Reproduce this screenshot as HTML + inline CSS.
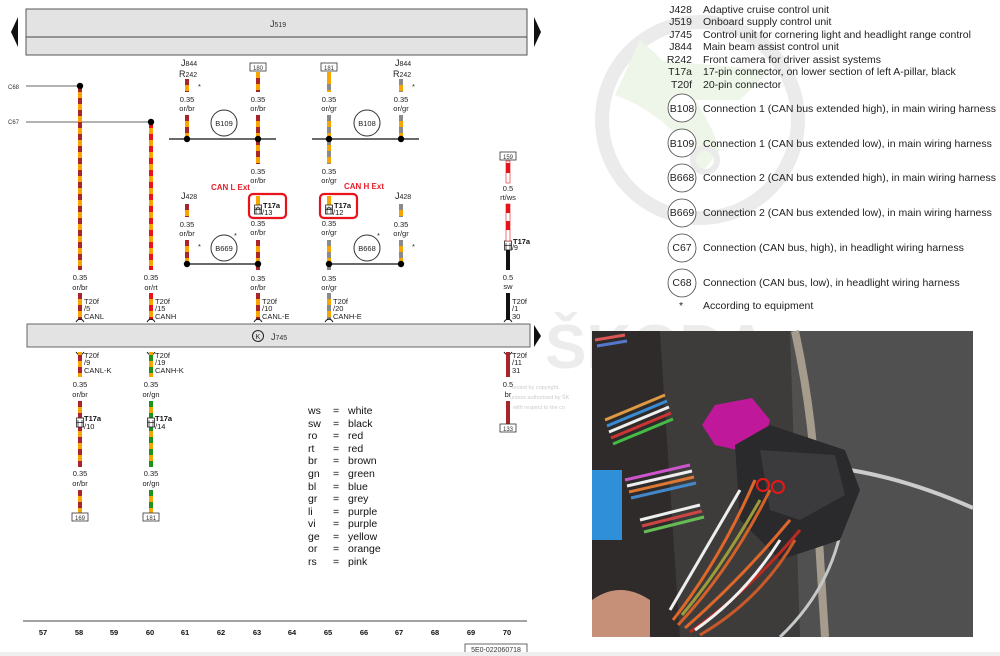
<!DOCTYPE html>
<html><head><meta charset="utf-8">
<style>
html,body{margin:0;padding:0;background:#fff;width:1000px;height:656px;overflow:hidden}
svg{display:block;font-family:"Liberation Sans",Arial,sans-serif}
.t{font-size:7.5px;fill:#222}
.s{font-size:6px;fill:#333}
.lg{font-size:10.5px;fill:#222}
.cl{font-size:10.5px;fill:#111}
.o{stroke:#f7a600;stroke-width:4}
.br{stroke:#a8262b;stroke-width:4;stroke-dasharray:6 6}
.rt{stroke:#e8121b;stroke-width:4;stroke-dasharray:6 6}
.gr{stroke:#8a8a8a;stroke-width:4;stroke-dasharray:6 6}
.gn{stroke:#1d931d;stroke-width:4;stroke-dasharray:6 6}
.num{font-size:7.5px;font-weight:bold;fill:#111}
</style></head><body>
<svg width="1000" height="656" viewBox="0 0 1000 656" xmlns="http://www.w3.org/2000/svg">
<!-- watermark -->
<circle cx="700" cy="120" r="98" fill="none" stroke="#ebebeb" stroke-width="14"/>
<path d="M640 40 Q700 90 720 150 L700 175 Q680 120 615 95 Z" fill="#edf6e8"/>
<path d="M650 60 L770 70 L740 100 L690 100 Z" fill="#edf6e8"/>
<circle cx="705" cy="160" r="12" fill="none" stroke="#ebebeb" stroke-width="6"/>
<text x="545" y="368" font-size="62" font-weight="bold" fill="#ececec">ŠKODA</text>

<!-- J519 box -->
<rect x="26" y="9" width="501" height="46" fill="#e3e3e3" stroke="#555" stroke-width="1"/>
<line x1="26" y1="37" x2="527" y2="37" stroke="#444" stroke-width="1"/>
<text x="270" y="27" font-size="9" fill="#333">J<tspan font-size="7">519</tspan></text>
<polygon points="18,17 18,47 11,32" fill="#111"/>
<polygon points="534,17 534,47 541,32" fill="#111"/>

<!-- C68 / C67 -->
<text x="8" y="89" class="s" font-size="5">C68</text>
<text x="8" y="124" class="s" font-size="5">C67</text>
<line x1="26" y1="86" x2="80" y2="86" stroke="#666"/>
<line x1="26" y1="122" x2="151" y2="122" stroke="#666"/>
<line x1="80" y1="86" x2="80" y2="270" class="o"/><line x1="80" y1="86" x2="80" y2="270" class="br"/>
<line x1="151" y1="122" x2="151" y2="270" class="o"/><line x1="151" y1="122" x2="151" y2="270" class="rt"/>
<circle cx="80" cy="86" r="3.2" fill="#000"/><circle cx="151" cy="122" r="3.2" fill="#000"/>
<text x="80" y="280" class="t" text-anchor="middle">0.35</text><text x="80" y="290" class="t" text-anchor="middle">or/br</text>
<text x="151" y="280" class="t" text-anchor="middle">0.35</text><text x="151" y="290" class="t" text-anchor="middle">or/rt</text>

<!-- top column labels -->
<text x="181" y="66" font-size="9" fill="#222">J<tspan font-size="7">844</tspan></text>
<text x="179" y="77" font-size="9" fill="#222">R<tspan font-size="7">242</tspan></text>
<text x="395" y="66" font-size="9" fill="#222">J<tspan font-size="7">844</tspan></text>
<text x="393" y="77" font-size="9" fill="#222">R<tspan font-size="7">242</tspan></text>
<text x="198" y="89" class="t">*</text><text x="412" y="89" class="t">*</text>
<rect x="250" y="63" width="16" height="8" fill="#fff" stroke="#333" stroke-width="0.8"/><text x="258" y="70" class="s" text-anchor="middle">180</text>
<rect x="321" y="63" width="16" height="8" fill="#fff" stroke="#333" stroke-width="0.8"/><text x="329" y="70" class="s" text-anchor="middle">181</text>

<line x1="187" y1="79" x2="187" y2="92" class="o"/><line x1="187" y1="79" x2="187" y2="92" class="br" stroke-dasharray="7 6"/>
<line x1="187" y1="115" x2="187" y2="139" class="o"/><line x1="187" y1="115" x2="187" y2="139" class="br"/>
<line x1="258" y1="72" x2="258" y2="92" class="o"/><line x1="258" y1="78" x2="258" y2="92" class="br"/>
<line x1="258" y1="115" x2="258" y2="164" class="o"/><line x1="258" y1="115" x2="258" y2="164" class="br"/>
<line x1="329" y1="72" x2="329" y2="92" class="o"/><line x1="329" y1="84" x2="329" y2="92" class="gr"/>
<line x1="329" y1="115" x2="329" y2="164" class="o"/><line x1="329" y1="115" x2="329" y2="164" class="gr"/>
<line x1="401" y1="79" x2="401" y2="92" class="o"/><line x1="401" y1="79" x2="401" y2="92" class="gr" stroke-dasharray="7 6"/>
<line x1="401" y1="115" x2="401" y2="139" class="o"/><line x1="401" y1="115" x2="401" y2="139" class="gr"/>
<g class="t" text-anchor="middle">
<text x="187" y="102">0.35</text><text x="187" y="111">or/br</text>
<text x="258" y="102">0.35</text><text x="258" y="111">or/br</text>
<text x="329" y="102">0.35</text><text x="329" y="111">or/gr</text>
<text x="401" y="102">0.35</text><text x="401" y="111">or/gr</text>
<text x="258" y="174">0.35</text><text x="258" y="183">or/br</text>
<text x="329" y="174">0.35</text><text x="329" y="183">or/gr</text>
</g>
<line x1="169" y1="139" x2="276" y2="139" stroke="#111" stroke-width="1.2"/>
<line x1="312" y1="139" x2="419" y2="139" stroke="#111" stroke-width="1.2"/>
<circle cx="187" cy="139" r="3.2"/><circle cx="258" cy="139" r="3.2"/><circle cx="329" cy="139" r="3.2"/><circle cx="401" cy="139" r="3.2"/>
<circle cx="224" cy="123" r="13" fill="#fff" stroke="#333"/><text x="224" y="126" class="t" text-anchor="middle">B109</text>
<circle cx="367" cy="123" r="13" fill="#fff" stroke="#333"/><text x="367" y="126" class="t" text-anchor="middle">B108</text>

<text x="211" y="190" font-size="8" font-weight="bold" fill="#e8202a">CAN L Ext</text>
<text x="344" y="189" font-size="8" font-weight="bold" fill="#e8202a">CAN H Ext</text>
<rect x="249" y="194" width="37" height="24" rx="4" fill="none" stroke="#e8121b" stroke-width="2.2"/>
<rect x="320" y="194" width="37" height="24" rx="4" fill="none" stroke="#e8121b" stroke-width="2.2"/>
<line x1="258" y1="196" x2="258" y2="205" class="o"/><line x1="329" y1="196" x2="329" y2="205" class="o"/>
<g stroke="#222" fill="#fff" stroke-width="0.8">
<rect x="254.5" y="205" width="7" height="9"/><rect x="325.5" y="205" width="7" height="9"/>
<rect x="504.5" y="241" width="7" height="9"/>
</g>
<g stroke="#222" stroke-width="0.7" fill="none">
<path d="M256 214 V207 M260 214 V207 M256.5 209 L258 207 L259.5 209 M254.5 209.5 H261.5"/>
<path d="M327 214 V207 M331 214 V207 M327.5 209 L329 207 L330.5 209 M325.5 209.5 H332.5"/>
<path d="M506 250 V243 M510 250 V243 M504.5 245.5 H511.5"/>
</g>
<text x="263" y="208" font-size="7.5" font-weight="bold" fill="#111">T17a</text><text x="262" y="215" font-size="7.5" fill="#111">/13</text>
<text x="334" y="208" font-size="7.5" font-weight="bold" fill="#111">T17a</text><text x="333" y="215" font-size="7.5" fill="#111">/12</text>

<text x="181" y="199" font-size="9" fill="#222">J<tspan font-size="7">428</tspan></text>
<text x="395" y="199" font-size="9" fill="#222">J<tspan font-size="7">428</tspan></text>
<line x1="187" y1="204" x2="187" y2="217" class="o"/><line x1="187" y1="204" x2="187" y2="217" class="br" stroke-dasharray="8 6"/>
<line x1="401" y1="204" x2="401" y2="217" class="o"/><line x1="401" y1="204" x2="401" y2="217" class="gr" stroke-dasharray="8 6"/>
<g class="t" text-anchor="middle">
<text x="187" y="227">0.35</text><text x="187" y="236">or/br</text>
<text x="258" y="226">0.35</text><text x="258" y="235">or/br</text>
<text x="329" y="226">0.35</text><text x="329" y="235">or/gr</text>
<text x="401" y="227">0.35</text><text x="401" y="236">or/gr</text>
<text x="258" y="281">0.35</text><text x="258" y="290">or/br</text>
<text x="329" y="281">0.35</text><text x="329" y="290">or/gr</text>
</g>
<text x="198" y="249" class="t">*</text><text x="412" y="249" class="t">*</text>
<text x="234" y="238" class="t">*</text><text x="377" y="238" class="t">*</text>
<line x1="187" y1="240" x2="187" y2="264" class="o"/><line x1="187" y1="240" x2="187" y2="264" class="br"/>
<line x1="258" y1="240" x2="258" y2="270" class="o"/><line x1="258" y1="240" x2="258" y2="270" class="br"/>
<line x1="329" y1="240" x2="329" y2="270" class="o"/><line x1="329" y1="240" x2="329" y2="270" class="gr"/>
<line x1="401" y1="240" x2="401" y2="264" class="o"/><line x1="401" y1="240" x2="401" y2="264" class="gr"/>
<line x1="187" y1="264" x2="258" y2="264" stroke="#111" stroke-width="1.2"/>
<line x1="329" y1="264" x2="401" y2="264" stroke="#111" stroke-width="1.2"/>
<circle cx="187" cy="264" r="3.2"/><circle cx="258" cy="264" r="3.2"/><circle cx="329" cy="264" r="3.2"/><circle cx="401" cy="264" r="3.2"/>
<circle cx="224" cy="248" r="13" fill="#fff" stroke="#333"/><text x="224" y="251" class="t" text-anchor="middle">B669</text>
<circle cx="367" cy="248" r="13" fill="#fff" stroke="#333"/><text x="367" y="251" class="t" text-anchor="middle">B668</text>

<line x1="80" y1="293" x2="80" y2="320" class="o"/><line x1="80" y1="293" x2="80" y2="320" class="br"/>
<line x1="151" y1="293" x2="151" y2="320" class="o"/><line x1="151" y1="293" x2="151" y2="320" class="rt"/>
<line x1="258" y1="293" x2="258" y2="320" class="o"/><line x1="258" y1="293" x2="258" y2="320" class="br"/>
<line x1="329" y1="293" x2="329" y2="320" class="o"/><line x1="329" y1="293" x2="329" y2="320" class="gr"/>
<g font-size="7.5" fill="#222">
<text x="84" y="304">T20f</text><text x="84" y="311">/5</text><text x="84" y="319">CANL</text>
<text x="155" y="304">T20f</text><text x="155" y="311">/15</text><text x="155" y="319">CANH</text>
<text x="262" y="304">T20f</text><text x="262" y="311">/10</text><text x="262" y="319">CANL-E</text>
<text x="333" y="304">T20f</text><text x="333" y="311">/20</text><text x="333" y="319">CANH-E</text>
<text x="512" y="304">T20f</text><text x="512" y="311">/1</text><text x="512" y="319">30</text>
</g>
<g stroke="#111" stroke-width="1" fill="none">
<path d="M76 322 Q80 316 84 322"/><path d="M147 322 Q151 316 155 322"/><path d="M254 322 Q258 316 262 322"/><path d="M325 322 Q329 316 333 322"/><path d="M504 322 Q508 316 512 322"/>
<path d="M76 352 Q80 358 84 352"/><path d="M147 352 Q151 358 155 352"/><path d="M504 352 Q508 358 512 352"/>
</g>

<rect x="500" y="152" width="16" height="8" fill="#fff" stroke="#333" stroke-width="0.8"/><text x="508" y="159" class="s" text-anchor="middle">159</text>
<rect x="506" y="161" width="4" height="22" fill="#fff" stroke="#e8121b" stroke-width="0.6"/>
<rect x="506" y="163" width="4" height="10" fill="#e8121b"/>
<text x="508" y="191" class="t" text-anchor="middle">0.5</text><text x="508" y="200" class="t" text-anchor="middle">rt/ws</text>
<rect x="506" y="204" width="4" height="37" fill="#fff" stroke="#e8121b" stroke-width="0.6"/>
<rect x="506" y="204" width="4" height="9" fill="#e8121b"/><rect x="506" y="221" width="4" height="9" fill="#e8121b"/>
<text x="513" y="244" font-size="7.5" font-weight="bold" fill="#111">T17a</text><text x="512" y="250" font-size="7" fill="#111">/9</text>
<line x1="508" y1="250" x2="508" y2="270" stroke="#111" stroke-width="4"/>
<text x="508" y="280" class="t" text-anchor="middle">0.5</text><text x="508" y="289" class="t" text-anchor="middle">sw</text>
<line x1="508" y1="293" x2="508" y2="320" stroke="#111" stroke-width="4"/>

<rect x="27" y="324" width="503" height="23" fill="#e3e3e3" stroke="#666"/>
<circle cx="258" cy="336" r="5.5" fill="none" stroke="#222"/><text x="258" y="339" font-size="7" text-anchor="middle" fill="#222">K</text>
<text x="271" y="340" font-size="9" fill="#333">J<tspan font-size="7">745</tspan></text>
<polygon points="534,325 534,347 541,336" fill="#111"/>

<line x1="80" y1="352" x2="80" y2="377" class="o"/><line x1="80" y1="355" x2="80" y2="377" class="br" stroke-dasharray="8 5"/>
<line x1="151" y1="352" x2="151" y2="377" class="o"/><line x1="151" y1="355" x2="151" y2="377" class="gn" stroke-dasharray="8 5"/>
<line x1="508" y1="352" x2="508" y2="377" stroke="#a8262b" stroke-width="4"/>
<g font-size="7.5" fill="#222">
<text x="84" y="358">T20f</text><text x="84" y="365">/9</text><text x="84" y="373">CANL-K</text>
<text x="155" y="358">T20f</text><text x="155" y="365">/19</text><text x="155" y="373">CANH-K</text>
<text x="512" y="358">T20f</text><text x="512" y="365">/11</text><text x="512" y="373">31</text>
</g>
<g class="t" text-anchor="middle">
<text x="80" y="387">0.35</text><text x="80" y="397">or/br</text>
<text x="151" y="387">0.35</text><text x="151" y="397">or/gn</text>
<text x="80" y="476">0.35</text><text x="80" y="486">or/br</text>
<text x="151" y="476">0.35</text><text x="151" y="486">or/gn</text>
<text x="508" y="387">0.5</text><text x="508" y="397">br</text>
</g>
<line x1="80" y1="401" x2="80" y2="467" class="o"/><line x1="80" y1="401" x2="80" y2="467" class="br"/>
<line x1="151" y1="401" x2="151" y2="467" class="o"/><line x1="151" y1="401" x2="151" y2="467" class="gn"/>
<line x1="80" y1="490" x2="80" y2="513" class="o"/><line x1="80" y1="490" x2="80" y2="513" class="br" stroke-dasharray="7 6"/>
<line x1="151" y1="490" x2="151" y2="513" class="o"/><line x1="151" y1="490" x2="151" y2="513" class="gn" stroke-dasharray="7 6"/>
<line x1="508" y1="401" x2="508" y2="424" stroke="#a8262b" stroke-width="4"/>
<rect x="76.5" y="418" width="7" height="9" fill="#fff" stroke="#222" stroke-width="0.8"/>
<rect x="147.5" y="418" width="7" height="9" fill="#fff" stroke="#222" stroke-width="0.8"/>
<g stroke="#222" stroke-width="0.7" fill="none">
<path d="M78 427 V420 M82 427 V420 M76.5 422.5 H83.5"/>
<path d="M149 427 V420 M153 427 V420 M147.5 422.5 H154.5"/>
</g>
<text x="84" y="421" font-size="7.5" font-weight="bold" fill="#111">T17a</text><text x="84" y="429" font-size="7.5" fill="#111">/10</text>
<text x="155" y="421" font-size="7.5" font-weight="bold" fill="#111">T17a</text><text x="155" y="429" font-size="7.5" fill="#111">/14</text>
<rect x="72" y="513" width="16" height="8" fill="#fff" stroke="#333" stroke-width="0.8"/><text x="80" y="520" class="s" text-anchor="middle">169</text>
<rect x="143" y="513" width="16" height="8" fill="#fff" stroke="#333" stroke-width="0.8"/><text x="151" y="520" class="s" text-anchor="middle">181</text>
<rect x="500" y="424" width="16" height="8" fill="#fff" stroke="#333" stroke-width="0.8"/><text x="508" y="431" class="s" text-anchor="middle">133</text>
<g font-size="5.5" fill="#ccc"><text x="512" y="389">tected by copyright.</text><text x="510" y="399">unless authorised by ŠK</text><text x="513" y="409">with respect to the co</text></g>

<g class="cl">
<text x="308" y="414">ws</text><text x="333" y="414">=</text><text x="348" y="414">white</text>
<text x="308" y="427">sw</text><text x="333" y="427">=</text><text x="348" y="427">black</text>
<text x="308" y="439">ro</text><text x="333" y="439">=</text><text x="348" y="439">red</text>
<text x="308" y="452">rt</text><text x="333" y="452">=</text><text x="348" y="452">red</text>
<text x="308" y="464">br</text><text x="333" y="464">=</text><text x="348" y="464">brown</text>
<text x="308" y="477">gn</text><text x="333" y="477">=</text><text x="348" y="477">green</text>
<text x="308" y="490">bl</text><text x="333" y="490">=</text><text x="348" y="490">blue</text>
<text x="308" y="502">gr</text><text x="333" y="502">=</text><text x="348" y="502">grey</text>
<text x="308" y="515">li</text><text x="333" y="515">=</text><text x="348" y="515">purple</text>
<text x="308" y="527">vi</text><text x="333" y="527">=</text><text x="348" y="527">purple</text>
<text x="308" y="540">ge</text><text x="333" y="540">=</text><text x="348" y="540">yellow</text>
<text x="308" y="552">or</text><text x="333" y="552">=</text><text x="348" y="552">orange</text>
<text x="308" y="565">rs</text><text x="333" y="565">=</text><text x="348" y="565">pink</text>
</g>

<line x1="23" y1="621" x2="527" y2="621" stroke="#444"/>
<g class="num" text-anchor="middle">
<text x="43" y="635">57</text><text x="79" y="635">58</text><text x="114" y="635">59</text><text x="150" y="635">60</text><text x="185" y="635">61</text><text x="221" y="635">62</text><text x="257" y="635">63</text><text x="292" y="635">64</text><text x="328" y="635">65</text><text x="364" y="635">66</text><text x="399" y="635">67</text><text x="435" y="635">68</text><text x="471" y="635">69</text><text x="507" y="635">70</text>
</g>
<rect x="465" y="644" width="62" height="12" fill="none" stroke="#444" stroke-width="0.8"/>
<text x="496" y="652" font-size="7" text-anchor="middle" fill="#333">5E0-022060718</text>
<rect x="0" y="652" width="1000" height="4" fill="#eee"/>

<g class="lg" text-anchor="end">
<text x="692" y="13">J428</text><text x="692" y="25">J519</text><text x="692" y="38">J745</text><text x="692" y="50">J844</text><text x="692" y="63">R242</text><text x="692" y="75">T17a</text><text x="692" y="88">T20f</text>
</g>
<g class="lg" font-size="10.3">
<text x="703" y="13">Adaptive cruise control unit</text>
<text x="703" y="25">Onboard supply control unit</text>
<text x="703" y="38">Control unit for cornering light and headlight range control</text>
<text x="703" y="50">Main beam assist control unit</text>
<text x="703" y="63">Front camera for driver assist systems</text>
<text x="703" y="75">17-pin connector, on lower section of left A-pillar, black</text>
<text x="703" y="88">20-pin connector</text>
<text x="703" y="112">Connection 1 (CAN bus extended high), in main wiring harness</text>
<text x="703" y="147">Connection 1 (CAN bus extended low), in main wiring harness</text>
<text x="703" y="181">Connection 2 (CAN bus extended high), in main wiring harness</text>
<text x="703" y="216">Connection 2 (CAN bus extended low), in main wiring harness</text>
<text x="703" y="251">Connection (CAN bus, high), in headlight wiring harness</text>
<text x="703" y="286">Connection (CAN bus, low), in headlight wiring harness</text>
<text x="703" y="309">According to equipment</text>
<text x="679" y="309">*</text>
</g>
<g fill="#fff" stroke="#444" stroke-width="0.8">
<circle cx="682" cy="108" r="14"/><circle cx="682" cy="143" r="14"/><circle cx="682" cy="178" r="14"/><circle cx="682" cy="213" r="14"/><circle cx="682" cy="248" r="14"/><circle cx="682" cy="283" r="14"/>
</g>
<g class="lg" text-anchor="middle" font-size="10">
<text x="682" y="112">B108</text><text x="682" y="147">B109</text><text x="682" y="181">B668</text><text x="682" y="216">B669</text><text x="682" y="251">C67</text><text x="682" y="286">C68</text>
</g>

<g>
<rect x="592" y="331" width="381" height="306" fill="#4a4a4a"/>
<rect x="790" y="331" width="183" height="306" fill="#505050"/>
<path d="M592 331 L660 331 L680 637 L592 637 Z" fill="#2e2b2a"/>
<path d="M660 331 L790 331 L800 637 L680 637 Z" fill="#3d3c3b"/>
<path d="M795 331 Q810 400 815 470 Q820 560 825 637" stroke="#a59c8e" stroke-width="8" fill="none"/>
<path d="M850 470 Q910 480 973 508" stroke="#ccc" stroke-width="4" fill="none"/>
<path d="M845 500 Q840 580 780 637" stroke="#c4c8c8" stroke-width="3" fill="none"/>
<g stroke-width="3">
<path d="M605 420 L665 395" stroke="#d94"/><path d="M607 426 L667 401" stroke="#3a8bd5"/><path d="M609 432 L669 407" stroke="#eee"/><path d="M611 438 L671 413" stroke="#c33"/><path d="M613 444 L673 419" stroke="#4b4"/>
<path d="M625 480 L690 465" stroke="#c5c"/><path d="M627 486 L692 471" stroke="#eee"/><path d="M629 492 L694 477" stroke="#d73"/><path d="M631 498 L696 483" stroke="#48c"/>
<path d="M640 520 L700 505" stroke="#eee"/><path d="M642 526 L702 511" stroke="#c44"/><path d="M644 532 L704 517" stroke="#6b5"/>
<path d="M595 340 L625 335" stroke="#d55"/><path d="M597 346 L627 341" stroke="#57c"/>
</g>
<rect x="592" y="470" width="30" height="70" fill="#2f8fd8"/>
<path d="M592 600 Q620 580 650 600 L650 637 L592 637 Z" fill="#c69078"/>
<path d="M702 425 L715 405 L752 398 L770 420 L760 455 L715 445 Z" fill="#c0189a"/>
<path d="M735 445 L770 425 L845 450 L860 490 L840 540 L780 560 L740 520 Z" fill="#2a2a2c"/>
<path d="M760 450 L835 455 L845 495 L800 520 L770 510 Z" fill="#3b3b3e"/>
<g stroke-width="3" fill="none">
<path d="M673 620 Q720 560 755 480" stroke="#e0672a"/>
<path d="M678 625 Q730 570 770 490" stroke="#d4602a"/>
<path d="M670 610 Q705 550 740 490" stroke="#eee"/>
<path d="M685 628 Q740 580 790 520" stroke="#e0672a"/>
<path d="M690 632 Q750 590 800 530" stroke="#bb2a20"/>
<path d="M682 615 Q720 570 760 500" stroke="#9b9b3a"/>
<path d="M695 630 Q745 595 780 540" stroke="#f0f0f0"/>
<path d="M700 635 Q760 600 795 540" stroke="#c85a2a"/>
</g>
<circle cx="763" cy="485" r="6" fill="none" stroke="#e81818" stroke-width="2"/>
<circle cx="778" cy="487" r="6" fill="none" stroke="#e81818" stroke-width="2"/>
</g>
</svg>
</body></html>
